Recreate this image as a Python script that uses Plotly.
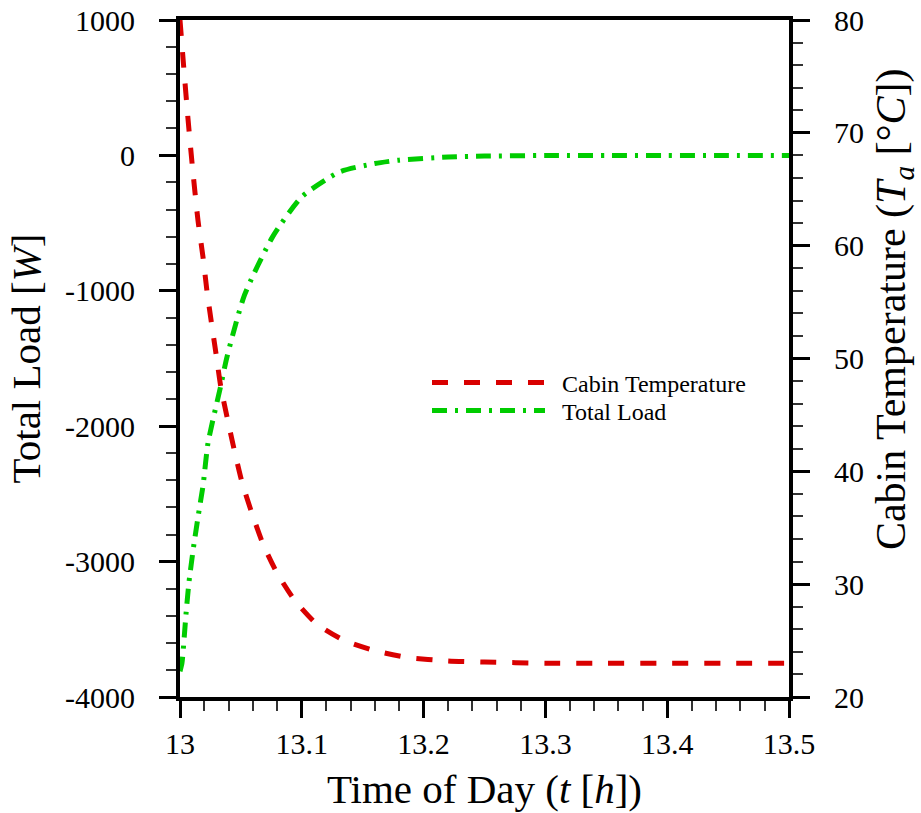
import plotly.graph_objects as go

# Cabin temperature (right axis)
t_temp = [13.000, 13.003, 13.0066, 13.010, 13.0148, 13.019, 13.022, 13.0255, 13.030,
          13.0335, 13.0435, 13.051, 13.059, 13.068, 13.0796, 13.094, 13.112, 13.135,
          13.16, 13.187, 13.22, 13.25, 13.30, 13.35, 13.40, 13.45, 13.50]
cabin_temp = [80.0, 75.9, 71.2, 67.2, 62.2, 58.9, 56.1, 53.4, 50.1,
              47.5, 42.4, 39.0, 36.3, 33.6, 31.0, 28.6, 26.5, 25.0,
              24.1, 23.5, 23.2, 23.1, 23.0, 23.0, 23.0, 23.0, 23.0]

# Total load (left axis)
t_load = [13.000, 13.0016, 13.005, 13.0074, 13.011, 13.0148, 13.019, 13.023, 13.0335,
          13.0386, 13.053, 13.076, 13.100, 13.131, 13.16, 13.18, 13.22, 13.25,
          13.30, 13.35, 13.40, 13.45, 13.50]
total_load = [-3810, -3750, -3380, -3150, -2900, -2670, -2433, -2124, -1700,
              -1488, -1030, -602, -306, -122, -60, -35, -12, -5,
              -1, 0, 0, 0, 0]

x_ticks = [13, 13.1, 13.2, 13.3, 13.4, 13.5]
x_tick_text = ["13", "13.1", "13.2", "13.3", "13.4", "13.5"]
load_ticks = [1000, 0, -1000, -2000, -3000, -4000]
load_tick_text = ["1000", "0", "-1000", "-2000", "-3000", "-4000"]
temp_ticks = [80, 70, 60, 50, 40, 30, 20]
temp_tick_text = ["80", "70", "60", "50", "40", "30", "20"]

FONT = "Liberation Serif"
RED = "#d90000"
GREEN = "#00cc00"
NB = "\u00a0\u00a0"

fig = go.Figure()
fig.add_trace(go.Scatter(
    x=t_temp, y=cabin_temp, yaxis="y2", name=NB + "Cabin Temperature", mode="lines",
    legend="legend",
    line=dict(color=RED, width=5, dash="16px,16px", shape="spline", smoothing=0.6)))
fig.add_trace(go.Scatter(
    x=t_load, y=total_load, yaxis="y", name=NB + "Total Load", mode="lines",
    legend="legend2",
    line=dict(color=GREEN, width=5, dash="15px,8px,3px,8px", shape="spline", smoothing=0.6)))

axis_common = dict(
    showgrid=False, zeroline=False, showline=True, linecolor="black", linewidth=4,
    ticks="outside", ticklen=17, tickwidth=3, tickcolor="black",
    tickfont=dict(family=FONT, size=30, color="black"),
)

legend_common = dict(xanchor="left", yanchor="middle", bgcolor="rgba(0,0,0,0)",
                     borderwidth=0, font=dict(family=FONT, size=24, color="black"),
                     itemwidth=113)

fig.update_layout(
    width=921, height=813,
    margin=dict(l=180, r=132, t=20, b=116, autoexpand=False),
    plot_bgcolor="white", paper_bgcolor="white",
    font=dict(family=FONT, color="black"),
    showlegend=True,
    legend=dict(**legend_common, x=0.4056, y=0.4638),
    legend2=dict(**legend_common, x=0.4056, y=0.4225),
    xaxis=dict(
        **axis_common, range=[13, 13.5], tickvals=x_ticks, ticktext=x_tick_text,
        mirror=True, ticklabelstandoff=0,
        minor=dict(dtick=0.02, ticklen=10, tickwidth=1.5, tickcolor="#333", ticks="outside"),
        title=dict(text="Time of Day (<i>t</i> [<i>h</i>])",
                   font=dict(family=FONT, size=41, color="black"), standoff=16),
    ),
    yaxis=dict(
        **axis_common, range=[-4000, 1000], tickvals=load_ticks, ticktext=load_tick_text,
        ticklabelstandoff=18,
        minor=dict(dtick=200, ticklen=10, tickwidth=1.5, tickcolor="#333", ticks="outside"),
        title=dict(text="Total Load [<i>W</i>]",
                   font=dict(family=FONT, size=41, color="black"), standoff=13),
    ),
    yaxis2=dict(
        **axis_common, range=[20, 80], tickvals=temp_ticks, ticktext=temp_tick_text,
        overlaying="y", side="right", ticklabelstandoff=18,
        minor=dict(dtick=2, ticklen=10, tickwidth=1.5, tickcolor="#333", ticks="outside"),
    ),
    annotations=[dict(
        text="Cabin Temperature (<i>T</i><sub><i>a</i></sub> [°<i>C</i>])",
        xref="paper", yref="paper", x=1.1724, y=0.573, textangle=-90,
        xanchor="center", yanchor="middle", showarrow=False,
        font=dict(family=FONT, size=42, color="black"))],
)

fig.write_html("out.html")
